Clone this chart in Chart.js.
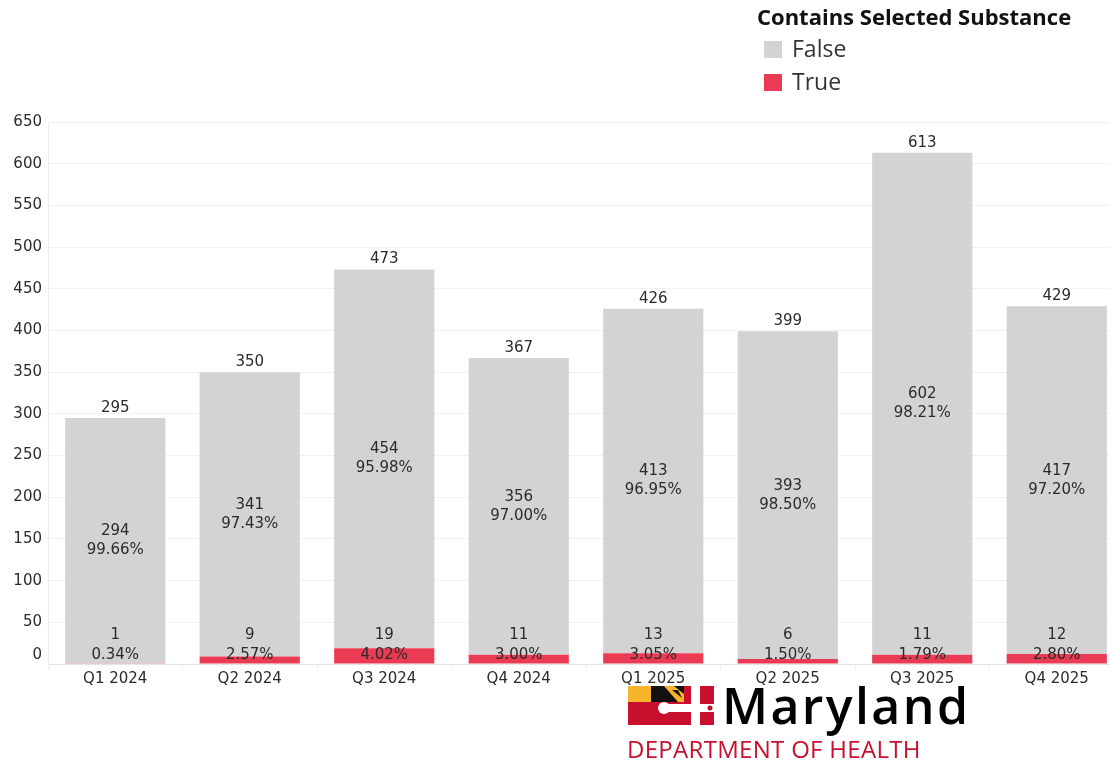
<!DOCTYPE html>
<html>
<head>
<meta charset="utf-8">
<script src="https://cdn.jsdelivr.net/npm/chart.js@4.4.1/dist/chart.umd.min.js"></script>
<style>
  html, body { margin: 0; padding: 0; background: #fff; width: 1110px; height: 760px; overflow: hidden; position: relative; }
  #wrap { position: absolute; left: 0; top: 0; width: 1125px; height: 700px; }
  #legend { position: absolute; left: 757px; top: 0px; font-family: "Open Sans", sans-serif; }
  #legend .title { font-weight: 700; font-size: 22px; color: #111; letter-spacing: 0px; line-height: 32px; }
  #legend .item { position: relative; height: 33px; }
  #legend .sw { position: absolute; left: 7px; top: 9px; width: 18px; height: 17px; }
  #legend .lab { position: absolute; left: 35px; top: 0px; font-size: 23px; color: #333; }
  #logo { position: absolute; left: 627px; top: 684px; width: 380px; height: 76px; }
  #logo canvas { position: absolute; left: 1px; top: 2px; }
  #logo .md { position: absolute; left: 95px; top: -13px; font-family: "Open Sans", sans-serif; font-weight: 600; font-size: 50px; color: #000; letter-spacing: 2.4px; }
  #logo .dept { position: absolute; left: 0; top: 48px; font-family: "Open Sans", sans-serif; font-weight: 500; font-size: 24px; color: #c8102e; letter-spacing: 0.3px; }
</style>
</head>
<body>
<div id="wrap"><canvas id="c"></canvas></div>
<div id="legend">
  <div class="title">Contains Selected Substance</div>
  <div class="item"><div class="sw" id="swF"></div><div class="lab" id="labF"></div></div>
  <div class="item"><div class="sw" id="swT"></div><div class="lab" id="labT"></div></div>
</div>
<div id="logo">
  <canvas id="flag" width="86" height="40"></canvas>
  <div class="md">Maryland</div>
  <div class="dept">DEPARTMENT OF HEALTH</div>
</div>
<script>
const categories = ['Q1 2024', 'Q2 2024', 'Q3 2024', 'Q4 2024', 'Q1 2025', 'Q2 2025', 'Q3 2025', 'Q4 2025'];
const falseValues = [294, 341, 454, 356, 413, 393, 602, 417];
const trueValues = [1, 9, 19, 11, 13, 6, 11, 12];
const seriesNames = ['False', 'True'];
const yMax = 650;
const yStep = 50;

const colorFalse = '#d3d3d3';
const colorTrue = '#eb3a54';
const textColor = '#2b2b2b';
const fontFamily = '"DejaVu Sans", Verdana, sans-serif';

document.getElementById('swF').style.background = colorFalse;
document.getElementById('swT').style.background = colorTrue;
document.getElementById('labF').textContent = seriesNames[0];
document.getElementById('labT').textContent = seriesNames[1];

const totals = categories.map((_, i) => falseValues[i] + trueValues[i]);
const pct = (v, t) => (v / t * 100).toFixed(2) + '%';

const labelPlugin = {
  id: 'barLabels',
  afterDatasetsDraw(chart) {
    const ctx = chart.ctx;
    const metaF = chart.getDatasetMeta(1);
    const yScale = chart.scales.y;
    const zero = yScale.getPixelForValue(0);
    ctx.save();
    ctx.fillStyle = textColor;
    ctx.font = '15px ' + fontFamily;
    ctx.textAlign = 'center';
    ctx.textBaseline = 'middle';
    categories.forEach((c, i) => {
      const f = metaF.data[i];
      const x = f.x;
      ctx.fillText(String(totals[i]), x, f.y - 10);
      const mid = (f.y + f.base) / 2;
      ctx.fillText(String(falseValues[i]), x, mid - 9.5);
      ctx.fillText(pct(falseValues[i], totals[i]), x, mid + 9.5);
      ctx.fillText(String(trueValues[i]), x, zero - 29);
      ctx.fillText(pct(trueValues[i], totals[i]), x, zero - 9);
    });
    ctx.textAlign = 'right';
    ctx.fillText('0', yScale.right - 6, zero - 9);
    ctx.restore();
  }
};

new Chart(document.getElementById('c'), {
  type: 'bar',
  data: {
    labels: categories,
    datasets: [
      { label: seriesNames[1], data: trueValues, backgroundColor: colorTrue, borderWidth: 0, barPercentage: 0.745, categoryPercentage: 1 },
      { label: seriesNames[0], data: falseValues, backgroundColor: colorFalse, borderWidth: 0, barPercentage: 0.745, categoryPercentage: 1 }
    ]
  },
  options: {
    responsive: true,
    maintainAspectRatio: false,
    animation: false,
    layout: { padding: { top: 122, right: 1, left: 0, bottom: 0 } },
    plugins: { legend: { display: false }, tooltip: { enabled: false } },
    scales: {
      x: {
        stacked: true,
        grid: { display: true, drawOnChartArea: false, drawTicks: true, tickLength: 5, offset: true, color: '#ececec' },
        border: { display: true, color: '#e4e4e4' },
        ticks: { color: textColor, font: { family: fontFamily, size: 15 }, padding: 1, maxRotation: 0 },
        afterFit(scale) { scale.height = 36; }
      },
      y: {
        stacked: true,
        min: 0,
        max: yMax,
        ticks: {
          stepSize: yStep,
          color: textColor,
          font: { family: fontFamily, size: 15 },
          padding: 6,
          callback: (v) => v === 0 ? '' : String(v)
        },
        grid: { color: '#f1f1f1', drawTicks: false },
        border: { display: true, color: '#eeeeee' },
        afterFit(scale) { scale.width = 48; }
      }
    }
  },
  plugins: [labelPlugin]
});

// Maryland flag-style icon
(function () {
  const g = document.getElementById('flag').getContext('2d');
  const yellow = '#f7b52c', black = '#111', red = '#c8102e', white = '#fff';
  g.fillStyle = red; g.fillRect(0, 16, 86, 23);
  g.fillStyle = yellow; g.fillRect(0, 0, 23, 16);
  g.fillStyle = black; g.fillRect(23, 0, 33, 16);
  g.fillStyle = yellow;
  g.beginPath(); g.moveTo(36, 0); g.lineTo(46, 0); g.lineTo(56, 8); g.lineTo(56, 16); g.lineTo(50, 16); g.closePath(); g.fill();
  g.fillStyle = black;
  g.beginPath(); g.moveTo(44, 4); g.lineTo(50, 4); g.lineTo(54, 12); g.closePath(); g.fill();
  g.fillStyle = red; g.fillRect(56, 0, 30, 16);
  g.fillStyle = white;
  g.fillRect(32, 18, 54, 8);
  g.fillRect(63, 0, 9, 39);
  g.beginPath(); g.arc(36, 22, 6, 0, Math.PI * 2); g.fill();
  g.beginPath(); g.arc(67.5, 2, 4.5, 0, Math.PI * 2); g.fill();
  g.beginPath(); g.arc(67.5, 37, 4.5, 0, Math.PI * 2); g.fill();
  g.fillStyle = red;
  g.beginPath(); g.arc(82, 22, 2.5, 0, Math.PI * 2); g.fill();
})();
</script>
</body>
</html>
